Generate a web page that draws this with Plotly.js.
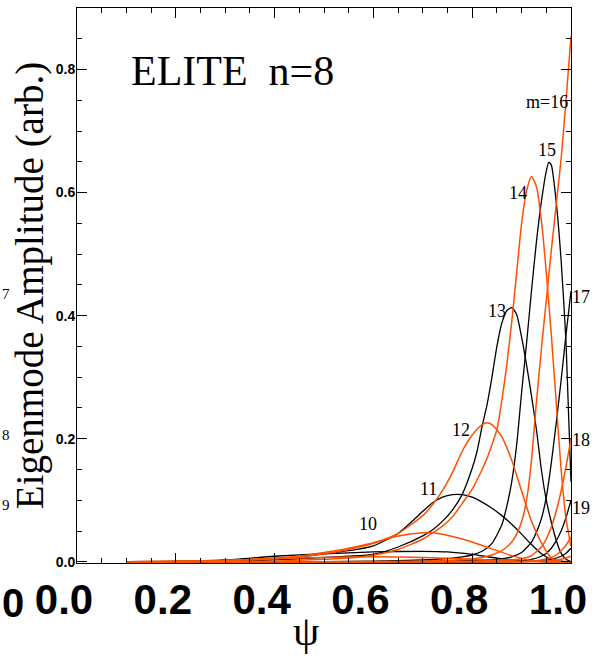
<!DOCTYPE html>
<html><head><meta charset="utf-8">
<script src="https://cdn.plot.ly/plotly-3.0.1.min.js"></script>
<style>html,body{margin:0;padding:0;background:#fff}#chart{width:600px;height:658px}</style>
</head><body><div id="chart"></div>
<script>
// Poloidal harmonic amplitudes vs psi
const psi8  = [0.10,0.20,0.30,0.40,0.50,0.60,0.70,0.80,0.90,1.00];
const amp8  = [0,0.001,0.002,0.005,0.007,0.008,0.007,0.004,0.001,0];
const psi9  = [0.10,0.20,0.30,0.40,0.50,0.60,0.70,0.75,0.80,0.85,0.90,0.95,1.00];
const amp9  = [0,0.0005,0.003,0.009,0.013,0.016,0.017,0.016,0.012,0.006,0.002,0,0];
const psi10 = [0.10,0.20,0.30,0.40,0.45,0.50,0.55,0.60,0.65,0.70,0.72,0.76,0.80,0.84,0.88,0.92,0.96,1.00];
const amp10 = [0,0.0005,0.002,0.006,0.009,0.015,0.022,0.031,0.042,0.047,0.047,0.041,0.032,0.021,0.010,0.002,0,0];
const psi11 = [0.10,0.20,0.30,0.40,0.45,0.50,0.55,0.60,0.65,0.68,0.70,0.72,0.74,0.76,0.78,0.80,0.82,0.84,0.86,0.88,0.90,0.92,0.94,0.96,0.98,1.00];
const amp11 = [0,0.0005,0.002,0.005,0.008,0.013,0.018,0.026,0.046,0.067,0.082,0.096,0.105,0.109,0.109,0.105,0.097,0.087,0.075,0.061,0.045,0.028,0.013,0.004,0.001,0];
const psi12 = [0.10,0.20,0.30,0.40,0.50,0.55,0.60,0.65,0.70,0.72,0.74,0.76,0.78,0.80,0.82,0.83,0.84,0.86,0.88,0.90,0.92,0.94,0.96,0.98,1.00];
const amp12 = [0,0.0005,0.002,0.005,0.013,0.020,0.030,0.046,0.075,0.093,0.116,0.145,0.180,0.206,0.223,0.226,0.223,0.203,0.165,0.115,0.066,0.031,0.006,0.001,0];
const psi13 = [0.10,0.20,0.30,0.40,0.50,0.55,0.60,0.65,0.70,0.72,0.74,0.76,0.78,0.80,0.81,0.82,0.83,0.84,0.85,0.86,0.87,0.88,0.89,0.90,0.91,0.92,0.93,0.94,0.95,0.96,0.97,0.98,0.99,1.00];
const amp13 = [0,0.0003,0.001,0.003,0.007,0.009,0.012,0.024,0.042,0.052,0.066,0.084,0.110,0.152,0.180,0.220,0.255,0.300,0.350,0.388,0.408,0.413,0.402,0.365,0.320,0.270,0.215,0.150,0.100,0.065,0.035,0.014,0.004,0];
const psi14 = [0.10,0.30,0.40,0.50,0.55,0.60,0.65,0.70,0.72,0.74,0.76,0.78,0.80,0.82,0.83,0.84,0.85,0.86,0.87,0.88,0.89,0.90,0.91,0.92,0.93,0.94,0.95,0.96,0.97,0.98,0.99,1.00];
const amp14 = [0,0,0.001,0.004,0.006,0.011,0.020,0.037,0.047,0.058,0.073,0.095,0.118,0.150,0.168,0.190,0.215,0.262,0.320,0.390,0.470,0.550,0.602,0.626,0.610,0.555,0.470,0.370,0.260,0.150,0.070,0.025];
const psi15 = [0.10,0.40,0.60,0.70,0.75,0.78,0.80,0.82,0.84,0.86,0.87,0.88,0.89,0.90,0.91,0.92,0.93,0.94,0.95,0.955,0.96,0.97,0.98,0.99,1.00];
const amp15 = [0,0,0.001,0.003,0.005,0.008,0.011,0.017,0.030,0.060,0.090,0.130,0.190,0.275,0.355,0.440,0.520,0.585,0.635,0.649,0.645,0.585,0.490,0.355,0.130];
const psi16 = [0.10,0.50,0.70,0.75,0.80,0.82,0.84,0.86,0.88,0.89,0.90,0.91,0.92,0.93,0.94,0.95,0.96,0.97,0.98,0.99,1.00];
const amp16 = [0,0,0.001,0.002,0.005,0.007,0.011,0.018,0.032,0.045,0.065,0.100,0.165,0.260,0.345,0.425,0.505,0.580,0.655,0.750,0.854];
const psi17 = [0.10,0.60,0.80,0.85,0.88,0.90,0.92,0.93,0.94,0.95,0.96,0.97,0.98,0.99,1.00];
const amp17 = [0,0,0.002,0.004,0.008,0.015,0.032,0.048,0.070,0.105,0.160,0.225,0.295,0.370,0.440];
const psi18 = [0.10,0.70,0.85,0.90,0.92,0.94,0.95,0.96,0.97,0.98,0.99,1.00];
const amp18 = [0,0,0.002,0.005,0.010,0.024,0.037,0.056,0.082,0.115,0.155,0.200];
const psi19 = [0.10,0.80,0.90,0.92,0.94,0.95,0.96,0.97,0.98,0.99,1.00];
const amp19 = [0,0,0.002,0.004,0.009,0.014,0.022,0.034,0.050,0.072,0.100];
const psi20 = [0.10,0.85,0.92,0.94,0.96,0.97,0.98,0.99,1.00];
const amp20 = [0,0,0.001,0.003,0.007,0.011,0.018,0.027,0.040];
const psi21 = [0.10,0.88,0.94,0.96,0.98,0.99,1.00];
const amp21 = [0,0,0.002,0.004,0.009,0.014,0.022];
const psi22 = [0.10,0.90,0.96,0.98,1.00];
const amp22 = [0,0,0.002,0.004,0.009];

const modeNumbers = [8,9,10,11,12,13,14,15,16,17,18,19,20,21,22];
const psiSets = [psi8,psi9,psi10,psi11,psi12,psi13,psi14,psi15,psi16,psi17,psi18,psi19,psi20,psi21,psi22];
const ampSets = [amp8,amp9,amp10,amp11,amp12,amp13,amp14,amp15,amp16,amp17,amp18,amp19,amp20,amp21,amp22];

// mode labels inside the frame: text, psi, amplitude
const labelText = ['10','11','12','13','14','15','m=16'];
const labelPsi  = [0.589,0.711,0.777,0.851,0.892,0.951,0.951];
const labelAmp  = [0.062,0.118,0.214,0.408,0.600,0.670,0.748];
// mode labels just right of the frame, amplitude
const edgeText = ['17','18','19'];
const edgeAmp  = [0.430,0.198,0.088];
// fragments of the neighbouring panel at the left edge
const fragText = ['7','8','9'];
const fragAmp  = [0.436,0.206,0.092];

const ORANGE = '#ff5000', BLACK = '#000000';
const blackTraces = [], orangeTraces = [];
modeNumbers.forEach((m,i)=>{
  const even = m%2===0;
  const tr = {x:psiSets[i], y:ampSets[i], type:'scatter', mode:'lines', name:'m='+m,
    line:{color: even ? ORANGE : BLACK, width: even ? 1.5 : 1.3, shape:'spline', smoothing:0.6},
    hoverinfo:'name'};
  (even ? orangeTraces : blackTraces).push(tr);
});
const data = blackTraces.concat(orangeTraces);

const serif = 'Liberation Serif, Times New Roman, serif';
const sans = 'Liberation Sans, Arial, sans-serif';

const annotations = labelText.map((t,i)=>({x:labelPsi[i], y:labelAmp[i], xref:'x', yref:'y', text:t,
  xanchor:'center', yanchor:'middle', showarrow:false, font:{family:serif, size:18, color:'#000'}}));
edgeText.forEach((t,i)=>annotations.push({x:1.02, y:edgeAmp[i], xref:'paper', yref:'y', text:t,
  xanchor:'center', yanchor:'middle', showarrow:false, font:{family:serif, size:18, color:'#000'}}));
fragText.forEach((t,i)=>annotations.push({x:-0.1559, y:fragAmp[i], xref:'paper', yref:'y', text:t,
  xanchor:'left', yanchor:'middle', showarrow:false, font:{family:serif, size:15, color:'#000'}}));
annotations.push({x:0.315, y:0.886, xref:'paper', yref:'paper', text:'ELITE  n=8', showarrow:false,
  xanchor:'center', yanchor:'middle', font:{family:serif, size:42, color:'#000'}});
// x-axis title placed as in the reference (left of centre), kept inside the page
annotations.push({x:0.4636, y:-0.1658, xref:'paper', yref:'paper', text:'ψ', showarrow:false,
  xanchor:'center', yanchor:'bottom', borderpad:0, font:{family:serif, size:42, color:'#000'}});
// fragment of neighbouring panel's tick label
annotations.push({x:-0.1559, y:-0.072, xref:'paper', yref:'paper', xanchor:'left', yanchor:'middle', text:'0',
  showarrow:false, font:{family:sans, size:40, color:'#000', weight:'bold'}});

const layout = {
  width:600, height:658,
  margin:{l:77, r:29, t:8, b:95, pad:0},
  paper_bgcolor:'#fff', plot_bgcolor:'#fff', showlegend:false,
  xaxis:{range:[0,1], tick0:0, dtick:0.2, tickformat:'.1f', ticks:'inside', ticklen:10, tickwidth:1, tickcolor:'#000',
    mirror:'allticks', showline:true, linecolor:'#000', linewidth:1, showgrid:false, zeroline:false,
    tickfont:{family:sans, size:42, color:'#000', weight:'bold'}, ticklabelshift:-13, ticklabelstandoff:0,
    minor:{dtick:0.05, ticks:'inside', ticklen:5, tickcolor:'#000', tickwidth:1, showgrid:false}},
  yaxis:{range:[-0.002,0.9], tick0:0, dtick:0.2, tickformat:'.1f', ticks:'inside', ticklen:10, tickwidth:1, tickcolor:'#000',
    mirror:'allticks', showline:true, linecolor:'#000', linewidth:1, showgrid:false, zeroline:false,
    tickfont:{family:sans, size:14, color:'#000', weight:'bold'}, ticklabelstandoff:-2,
    minor:{dtick:0.05, ticks:'inside', ticklen:5, tickcolor:'#000', tickwidth:1, showgrid:false},
    title:{text:'Eigenmode Amplitude (arb.)', font:{family:serif, size:39, color:'#000'}, standoff:0}},
  annotations:annotations
};
Plotly.newPlot('chart', data, layout, {displayModeBar:false, responsive:false});
</script></body></html>
